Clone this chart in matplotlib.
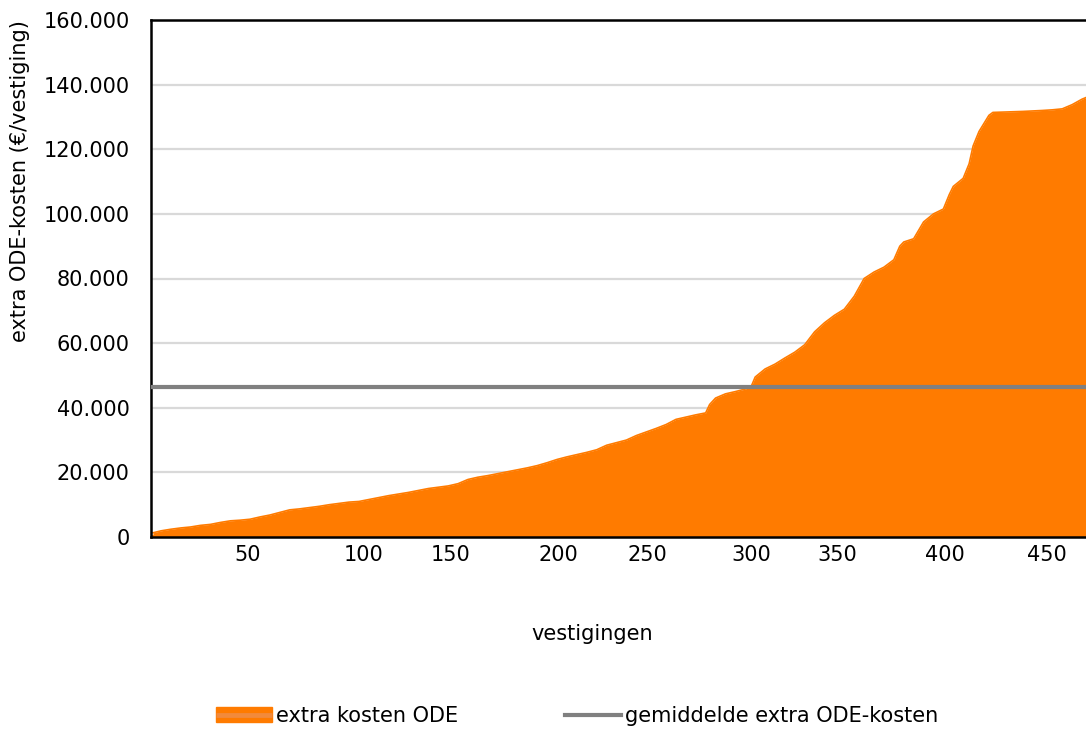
import matplotlib
matplotlib.use("Agg")
import matplotlib.pyplot as plt
from matplotlib.patches import Patch
from matplotlib.lines import Line2D
from matplotlib.ticker import FuncFormatter

# ---- data ----
vestiging = [1, 5, 10, 15, 20, 25, 30, 35, 40, 45, 50, 55, 60, 65, 70, 75, 80, 85, 90, 95,
             100, 105, 110, 115, 120, 125, 130, 135, 140, 145, 150, 155, 160, 165, 170, 175,
             180, 185, 190, 195, 200, 205, 210, 215, 220, 225, 230, 235, 240, 245, 250, 255,
             260, 265, 270, 275, 280, 282, 285, 290, 295, 300, 303, 305, 310, 315, 320, 325,
             330, 335, 340, 345, 350, 355, 360, 365, 370, 375, 378, 380, 385, 390, 395, 400,
             403, 405, 410, 413, 415, 418, 420, 423, 425, 430, 440, 450, 455, 460, 465, 470, 472]
kosten = [1300, 1900, 2400, 2800, 3100, 3600, 3900, 4500, 5000, 5200, 5500, 6200, 6800, 7600,
          8400, 8700, 9100, 9500, 10000, 10400, 10800, 11000, 11600, 12200, 12800, 13300, 13800,
          14400, 15000, 15400, 15800, 16500, 17800, 18500, 19000, 19600, 20200, 20800, 21400,
          22100, 23000, 24000, 24800, 25500, 26200, 27000, 28400, 29200, 30000, 31400, 32500,
          33600, 34800, 36400, 37100, 37800, 38400, 41000, 43000, 44300, 45000, 45800, 46600,
          49500, 52000, 53500, 55400, 57200, 59500, 63500, 66300, 68600, 70500, 74500, 80000,
          82000, 83500, 85800, 90000, 91300, 92300, 97500, 100000, 101500, 106000, 108500,
          111000, 115500, 121000, 125500, 127500, 130500, 131400, 131500, 131700, 132000,
          132200, 132500, 133800, 135500, 136000]
gemiddelde = 46300

x_labels = ["50", "100", "150", "200", "250", "300", "350", "400", "450"]
x_label_pos = [49, 107.5, 151, 205.5, 250.5, 303, 346.5, 401, 452.5]
y_ticks = [0, 20000, 40000, 60000, 80000, 100000, 120000, 140000, 160000]

ORANGE = "#FF7B00"
GREY = "#808080"
FS = 15

plt.rcParams['font.family'] = ['DejaVu Sans']

fig = plt.figure(figsize=(10.86, 7.29), dpi=100)
W, H = 1086, 729
ax = fig.add_axes([151 / W, 1 - 537 / H, (1086 - 151) / W, (537 - 20) / H])

ax.fill_between(vestiging, kosten, 0, color=ORANGE, linewidth=0, zorder=1)
ax.plot(vestiging, kosten, color=ORANGE, linewidth=1.2, zorder=1.1)
ax.axhline(gemiddelde, color=GREY, linewidth=3, zorder=3)
ax.axhline(0, color=ORANGE, linewidth=3, zorder=1.2)

ax.set_xlim(0, 472)
ax.set_ylim(0, 160000)
ax.set_yticks(y_ticks)
ax.yaxis.set_major_formatter(FuncFormatter(lambda v, p: f"{int(v):,}".replace(",", ".")))
ax.set_xticks(x_label_pos)
ax.set_xticklabels(x_labels)
ax.tick_params(axis='both', length=0, labelsize=FS, colors='black')
ax.tick_params(axis='y', pad=15.5)
ax.tick_params(axis='x', pad=6)

ax.grid(axis='y', color='#d9d9d9', linewidth=1.6, zorder=0)
ax.set_axisbelow(True)
for s in ['left', 'bottom', 'top']:
    ax.spines[s].set_color('black')
    ax.spines[s].set_linewidth(1.8)
ax.spines['right'].set_visible(False)
ax.spines['bottom'].set_zorder(4)

fig.text(592 / W, 1 - 634 / H, "vestigingen", ha='center', va='center', fontsize=FS)
fig.text(20 / W, 1 - 181 / H, "extra ODE-kosten (€/vestiging)", ha='center', va='center',
         rotation=90, fontsize=FS)

area_handle = (Patch(facecolor=ORANGE, edgecolor=ORANGE),
               Line2D([0], [0], color="#F28A3C", linewidth=3.5, solid_capstyle='butt'))
line_handle = Line2D([0], [0], color=GREY, linewidth=3)
fig.legend([area_handle, line_handle], ["extra kosten ODE", "gemiddelde extra ODE-kosten"],
           loc='center', bbox_to_anchor=(577 / W, 1 - 716 / H), ncol=2,
           frameon=False, fontsize=FS, handlelength=2.69, handleheight=0.7,
           handletextpad=0.2, columnspacing=5.1)

fig.savefig("out.png", dpi=100)
